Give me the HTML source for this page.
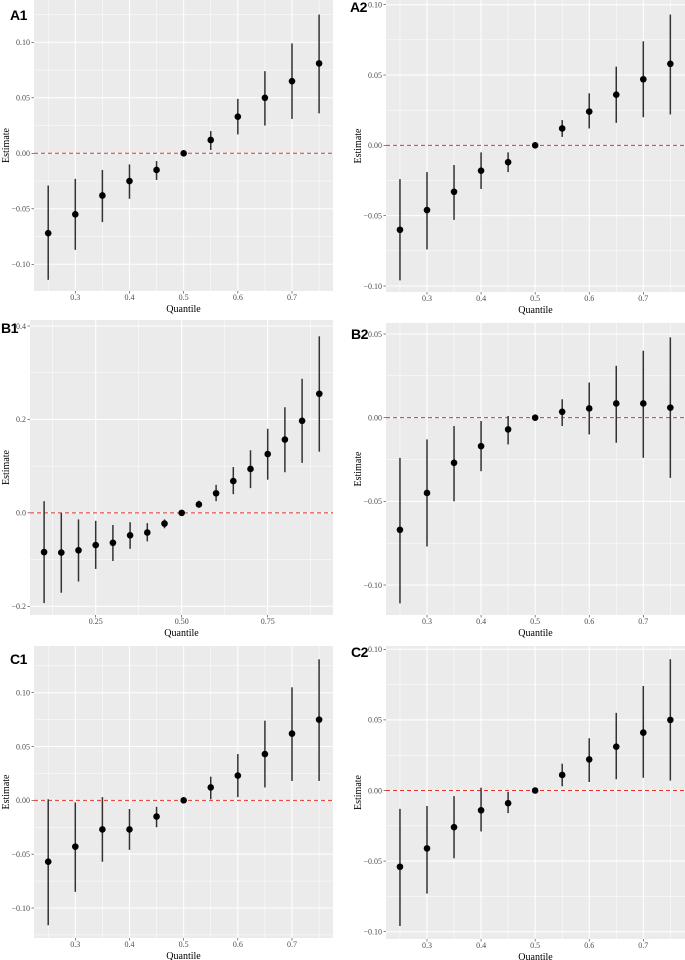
<!DOCTYPE html>
<html><head><meta charset="utf-8">
<style>
html,body{margin:0;padding:0;background:#fff;}
svg{display:block;}
text{font-family:"Liberation Serif",serif;}
.tick{font-size:8px;fill:#4d4d4d;}
.lab{font-size:10px;fill:#000;}
.pl{font-family:"Liberation Sans",sans-serif;font-size:14px;font-weight:bold;fill:#000;letter-spacing:-0.5px;}
</style></head>
<body>
<svg id="chart" width="685" height="960" viewBox="0 0 685 960" xmlns="http://www.w3.org/2000/svg"></svg>
<script>
const quantilesA = [0.25,0.30,0.35,0.40,0.45,0.50,0.55,0.60,0.65,0.70,0.75];
const quantilesB1 = [0.10,0.15,0.20,0.25,0.30,0.35,0.40,0.45,0.50,0.55,0.60,0.65,0.70,0.75,0.80,0.85,0.90];

const a1Est = [-0.072,-0.055,-0.038,-0.025,-0.015,0,0.012,0.033,0.050,0.065,0.081];
const a1Lo  = [-0.114,-0.087,-0.062,-0.041,-0.024,0,0.003,0.017,0.025,0.031,0.036];
const a1Hi  = [-0.029,-0.023,-0.015,-0.010,-0.007,0,0.020,0.049,0.074,0.099,0.125];

const a2Est = [-0.060,-0.046,-0.033,-0.018,-0.012,0,0.012,0.024,0.036,0.047,0.058];
const a2Lo  = [-0.096,-0.074,-0.053,-0.031,-0.019,0,0.006,0.012,0.016,0.020,0.022];
const a2Hi  = [-0.024,-0.019,-0.014,-0.005,-0.005,0,0.018,0.037,0.056,0.074,0.093];

const b1Est = [-0.084,-0.085,-0.080,-0.069,-0.064,-0.048,-0.042,-0.023,0,0.018,0.042,0.068,0.094,0.126,0.157,0.197,0.255];
const b1Lo  = [-0.193,-0.171,-0.147,-0.120,-0.103,-0.077,-0.061,-0.033,0,0.011,0.025,0.040,0.053,0.071,0.087,0.107,0.131];
const b1Hi  = [0.025,0.000,-0.014,-0.017,-0.026,-0.020,-0.022,-0.014,0,0.026,0.060,0.098,0.134,0.180,0.226,0.287,0.378];

const b2Est = [-0.067,-0.045,-0.027,-0.017,-0.007,0,0.0035,0.0055,0.0085,0.0085,0.006];
const b2Lo  = [-0.111,-0.077,-0.050,-0.032,-0.016,0,-0.005,-0.010,-0.015,-0.024,-0.036];
const b2Hi  = [-0.024,-0.013,-0.005,-0.002,0.001,0,0.011,0.021,0.031,0.040,0.048];

const c1Est = [-0.057,-0.043,-0.027,-0.027,-0.015,0,0.012,0.023,0.043,0.062,0.075];
const c1Lo  = [-0.116,-0.085,-0.057,-0.046,-0.025,0,0.001,0.003,0.012,0.018,0.018];
const c1Hi  = [0.001,-0.002,0.003,-0.008,-0.006,0,0.022,0.043,0.074,0.105,0.131];

const c2Est = [-0.054,-0.041,-0.026,-0.014,-0.009,0,0.011,0.022,0.031,0.041,0.050];
const c2Lo  = [-0.096,-0.073,-0.048,-0.029,-0.016,0,0.003,0.006,0.008,0.009,0.007];
const c2Hi  = [-0.013,-0.011,-0.004,0.002,-0.001,0,0.019,0.037,0.055,0.074,0.093];

const xTicksA = [0.3,0.4,0.5,0.6,0.7];
const xTickLabelsA = ["0.3","0.4","0.5","0.6","0.7"];
const xTicksB1 = [0.25,0.50,0.75];
const xTickLabelsB1 = ["0.25","0.50","0.75"];
const yTicksA1 = [-0.10,-0.05,0,0.05,0.10];
const yTickLabelsA1 = ["\u22120.10","\u22120.05","0.00","0.05","0.10"];
const yTicksB1 = [-0.2,0,0.2,0.4];
const yTickLabelsB1 = ["\u22120.2","0.0","0.2","0.4"];
const yTicksB2 = [-0.10,-0.05,0,0.05];
const yTickLabelsB2 = ["\u22120.10","\u22120.05","0.00","0.05"];

const NS = "http://www.w3.org/2000/svg";
const svg = document.getElementById('chart');
function mk(tag, attrs, parent){
  const e = document.createElementNS(NS, tag);
  for (const k in attrs) e.setAttribute(k, attrs[k]);
  (parent||svg).appendChild(e);
  return e;
}
function lin(v0,p0,v1,p1){ return v => p0 + (v - v0) * (p1 - p0) / (v1 - v0); }

function panel(cfg){
  const g = mk('g', {});
  
  
  const X = lin(cfg.xc[0], cfg.xc[1], cfg.xc[2], cfg.xc[3]);
  const Y = lin(cfg.yc[0], cfg.yc[1], cfg.yc[2], cfg.yc[3]);
  const bg = mk('rect', {x:cfg.L, y:cfg.T, width:cfg.R-cfg.L, height:cfg.B-cfg.T, fill:'#ebebeb'}, g);
  
  
  const xs = cfg.xt, ys = cfg.yt;
  const xstep = xs[1]-xs[0], ystep = ys[1]-ys[0];
  for (let v = xs[0]-xstep/2; X(v) <= cfg.R; v += xstep/2) {
    const px = X(v); if (px < cfg.L) continue;
    mk('line', {x1:px, x2:px, y1:cfg.T, y2:cfg.B, stroke:'#fff', 'stroke-width':0.5}, g);
  }
  for (let v = ys[0]-ystep; ; v += ystep/2) {
    const py = Y(v); if (py < cfg.T) break; if (py > cfg.B) continue;
    mk('line', {x1:cfg.L, x2:cfg.R, y1:py, y2:py, stroke:'#fff', 'stroke-width':0.5}, g);
  }
  xs.forEach((v,i) => {
    const px = X(v);
    mk('line', {x1:px, x2:px, y1:cfg.T, y2:cfg.B, stroke:'#fff', 'stroke-width':1}, g);
    mk('line', {x1:px, x2:px, y1:cfg.B, y2:cfg.B+2.5, stroke:'#333', 'stroke-width':0.6}, g);
    const t = mk('text', {x:px, y:cfg.B+9, 'text-anchor':'middle', class:'tick'}, g);
    t.textContent = cfg.xl[i];
    
    
  });
  ys.forEach((v,i) => {
    const py = Y(v);
    mk('line', {x1:cfg.L, x2:cfg.R, y1:py, y2:py, stroke:'#fff', 'stroke-width':1}, g);
    mk('line', {x1:cfg.L-2.5, x2:cfg.L, y1:py, y2:py, stroke:'#333', 'stroke-width':0.6}, g);
    const t = mk('text', {x:cfg.L-4, y:py+2.8, 'text-anchor':'end', class:'tick'}, g);
    t.textContent = cfg.yl[i];
    
    
  });
  const ref = mk('line', {x1:cfg.L, x2:cfg.R, y1:Y(0), y2:Y(0), stroke:'#e8302a', 'stroke-width':1, 'stroke-dasharray':'4,3'}, g);
  
  
  cfg.q.forEach((q,i) => {
    const px = X(q);
    const eb = mk('line', {x1:px, x2:px, y1:Y(cfg.lo[i]), y2:Y(cfg.hi[i]), stroke:'#333', 'stroke-width':1.5}, g);
    
    
    const pt = mk('circle', {cx:px, cy:Y(cfg.est[i]), r:3.3, fill:'#000'}, g);
    
    
  });
  const xt = mk('text', {x:(cfg.L+cfg.R)/2, y:cfg.B+21, 'text-anchor':'middle', class:'lab'}, g);
  xt.textContent = 'Quantile';
  
  
  const ym = (cfg.T+cfg.B)/2;
  const yt = mk('text', {x:cfg.yx, y:ym, 'text-anchor':'middle', class:'lab', transform:'rotate(-90 '+cfg.yx+' '+ym+')'}, g);
  yt.textContent = 'Estimate';
  
  
  const pl = mk('text', {x:cfg.px, y:cfg.py, class:'pl'}, g);
  pl.textContent = cfg.label;
  
  
}

panel({name:'panel-a1', label:'A1', px:10, py:20, L:34, R:333, T:0, B:291, yx:9,
  xc:[0.3,75.3,0.7,292], yc:[0.10,42.3,-0.10,264.3], xt:xTicksA, xl:xTickLabelsA, yt:yTicksA1, yl:yTickLabelsA1,
  q:quantilesA, est:a1Est, lo:a1Lo, hi:a1Hi});
panel({name:'panel-a2', label:'A2', px:350, py:12, L:386, R:685, T:0, B:292, yx:361,
  xc:[0.3,427,0.7,643.3], yc:[0.10,4.7,-0.10,286], xt:xTicksA, xl:xTickLabelsA, yt:yTicksA1, yl:yTickLabelsA1,
  q:quantilesA, est:a2Est, lo:a2Lo, hi:a2Hi});
panel({name:'panel-b1', label:'B1', px:1, py:333, L:30, R:333, T:320, B:615, yx:9,
  xc:[0.25,95.7,0.75,267.7], yc:[0.4,326,-0.2,606.3], xt:xTicksB1, xl:xTickLabelsB1, yt:yTicksB1, yl:yTickLabelsB1,
  q:quantilesB1, est:b1Est, lo:b1Lo, hi:b1Hi});
panel({name:'panel-b2', label:'B2', px:351, py:339, L:386, R:685, T:323, B:615, yx:361,
  xc:[0.3,427,0.7,643.3], yc:[0.05,334,-0.10,585], xt:xTicksA, xl:xTickLabelsA, yt:yTicksB2, yl:yTickLabelsB2,
  q:quantilesA, est:b2Est, lo:b2Lo, hi:b2Hi});
panel({name:'panel-c1', label:'C1', px:10, py:664, L:34, R:333, T:646, B:938, yx:9,
  xc:[0.3,75.3,0.7,292], yc:[0.10,692.7,-0.10,908], xt:xTicksA, xl:xTickLabelsA, yt:yTicksA1, yl:yTickLabelsA1,
  q:quantilesA, est:c1Est, lo:c1Lo, hi:c1Hi});
panel({name:'panel-c2', label:'C2', px:351, py:657, L:386, R:685, T:646, B:939, yx:361,
  xc:[0.3,427,0.7,643.3], yc:[0.10,649.3,-0.10,931.7], xt:xTicksA, xl:xTickLabelsA, yt:yTicksA1, yl:yTickLabelsA1,
  q:quantilesA, est:c2Est, lo:c2Lo, hi:c2Hi});
</script>
</body></html>
